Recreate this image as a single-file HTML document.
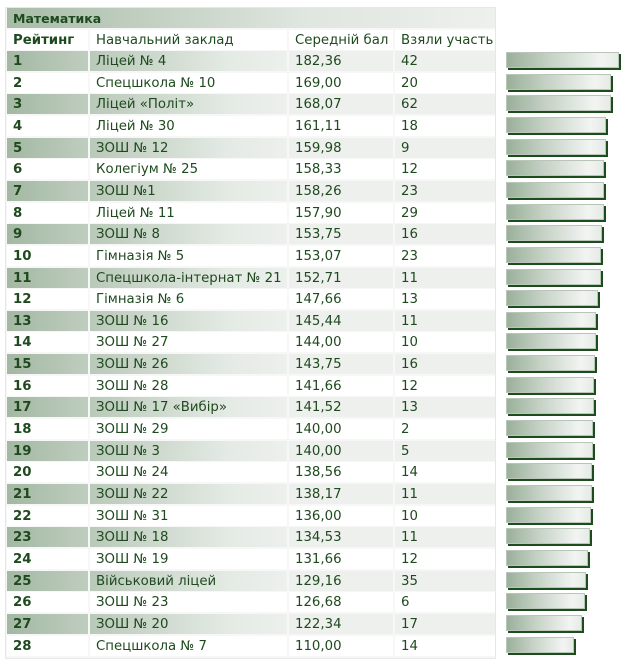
<!DOCTYPE html>
<html><head><meta charset="utf-8"><style>
body{margin:0;width:629px;height:667px;background:#fff;font-family:"DejaVu Sans","Liberation Sans",sans-serif;color:#1f4a1f;position:relative;overflow:hidden}
.c{position:absolute;height:20px;line-height:21px;font-size:13.3px;padding-left:6px;box-sizing:border-box;white-space:nowrap}
.b{font-weight:bold}
.frame{position:absolute;left:5px;top:7px;width:491px;height:652px;border:1px solid #e6e8e6;box-sizing:border-box;background:#f6f7f6}
.bar{position:absolute;height:16px;background:linear-gradient(90deg,#9ab09a,#c7d3c7 40%,#f2f4f2 85%,#e6ebe6);box-shadow:2px 2px 0 #1d4d1d;border:1px solid #b9c5b9;box-sizing:border-box}
</style></head><body>
<div class="frame"></div>
<div class="c b" style="left:7px;top:8px;width:488px;height:20px;font-size:12.5px;background:linear-gradient(90deg,#a7bca7,#dfe5df 60%,#eef0ee)">Математика</div>
<div id="t"></div>
<script>
var d=[["1","Ліцей № 4","182,36","42"],["2","Спецшкола № 10","169,00","20"],["3","Ліцей «Політ»","168,07","62"],["4","Ліцей № 30","161,11","18"],["5","ЗОШ № 12","159,98","9"],["6","Колегіум № 25","158,33","12"],["7","ЗОШ №1","158,26","23"],["8","Ліцей № 11","157,90","29"],["9","ЗОШ № 8","153,75","16"],["10","Гімназія № 5","153,07","23"],["11","Спецшкола-інтернат № 21","152,71","11"],["12","Гімназія № 6","147,66","13"],["13","ЗОШ  № 16","145,44","11"],["14","ЗОШ  № 27","144,00","10"],["15","ЗОШ  № 26","143,75","16"],["16","ЗОШ  № 28","141,66","12"],["17","ЗОШ  № 17 «Вибір»","141,52","13"],["18","ЗОШ  № 29","140,00","2"],["19","ЗОШ  № 3","140,00","5"],["20","ЗОШ  № 24","138,56","14"],["21","ЗОШ  № 22","138,17","11"],["22","ЗОШ  № 31","136,00","10"],["23","ЗОШ  № 18","134,53","11"],["24","ЗОШ  № 19","131,66","12"],["25","Військовий ліцей","129,16","35"],["26","ЗОШ  № 23","126,68","6"],["27","ЗОШ  № 20","122,34","17"],["28","Спецшкола № 7","110,00","14"]];
var X=[[7,81],[90,197],[289,104],[395,100]];
var h='';
function row(y,cells,odd,hdr){
 for(var j=0;j<4;j++){
  var bg='#fff';
  if(odd){bg=j==0?'linear-gradient(90deg,#a3b8a3,#bfcdbf)':j==1?'linear-gradient(90deg,#b9c9b9,#e4eae4 70%,#edf0ed)':'#eef0ee';}
  h+='<div class="c'+(j==0?' b':'')+'" style="left:'+X[j][0]+'px;top:'+y+'px;width:'+X[j][1]+'px;background:'+bg+'">'+cells[j]+'</div>';
 }
}
row(30,["Рейтинг","Навчальний заклад","Середній бал","Взяли участь"],false,true);
for(var i=0;i<28;i++){
 var y=Math.round(51+i*21.65);
 row(y,d[i],i%2==0,false);
 var v=parseFloat(d[i][2].replace(',','.'));
 h+='<div class="bar" style="left:506px;top:'+(y+1)+'px;width:'+Math.round(v*0.622)+'px"></div>';
}
document.getElementById('t').innerHTML=h;
</script>
</body></html>
